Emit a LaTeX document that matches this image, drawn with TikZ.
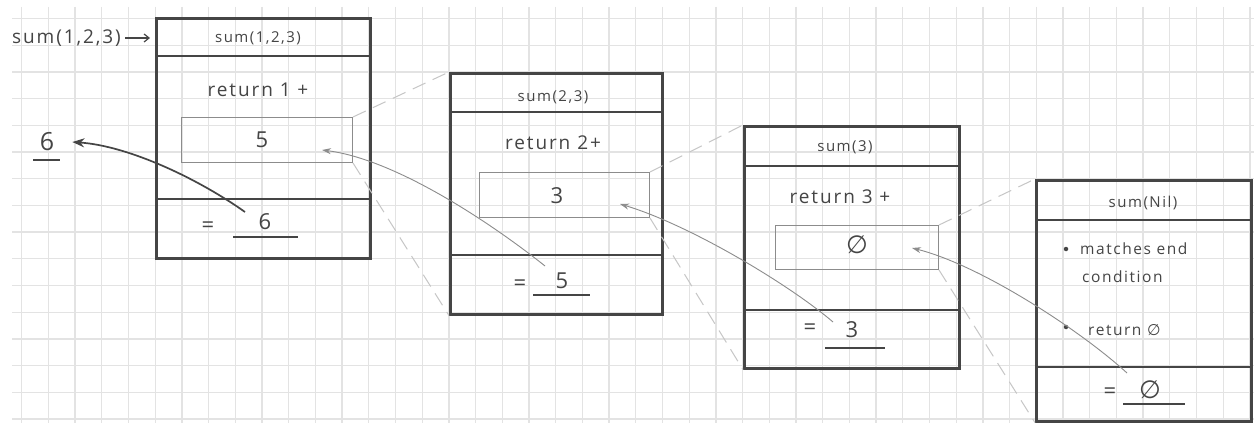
\documentclass[tikz,border=0pt]{standalone}
\usepackage{fontspec}
\setmainfont[LetterSpace=10]{Open Sans}
\newfontfamily\symfont{DejaVu Sans}
\usetikzlibrary{arrows.meta}
\definecolor{ink}{HTML}{454545}
\definecolor{pencil}{HTML}{8C8C8C}
\definecolor{gridc}{HTML}{E3E3E3}
\definecolor{dashc}{HTML}{C6C6C6}
\newcommand{\emptyglyph}{{\symfont ∅}}
\begin{document}
\begin{tikzpicture}[x=1pt,y=-1pt,
  frame/.style={draw=ink, line width=2.6pt, rectangle, inner sep=0pt, anchor=north west},
  slot/.style={draw=pencil, line width=1pt, rectangle, inner sep=0pt, anchor=north west},
  sep/.style={draw=ink, line width=2.2pt},
  txt/.style={text=ink, font=\fontsize{19}{22}\selectfont, inner sep=0pt},
  big/.style={text=ink, font=\fontsize{22}{24}\selectfont, inner sep=0pt},
  huge/.style={text=ink, font=\fontsize{25}{27}\selectfont, inner sep=0pt},
  head/.style={text=ink, font=\fontsize{15}{17}\selectfont, inner sep=0pt},
  small/.style={text=ink, font=\fontsize{15.5}{18}\selectfont, inner sep=0pt, anchor=west},
  uline/.style={draw=ink, line width=1.7pt},
  dot/.style={circle, fill=ink, inner sep=0pt, minimum size=4.5pt},
  back/.style={draw=pencil, line width=0.9pt, -{Stealth[length=9pt,width=6pt]}},
  zoomline/.style={draw=dashc, line width=1pt, dash pattern=on 14pt off 8pt},
  result/.style={draw=ink, line width=1.7pt, -{Stealth[length=12pt,width=9pt]}},
  callarr/.style={draw=ink, line width=1.2pt, -{Straight Barb[length=5pt,width=8pt]}}]

\useasboundingbox (0,0) rectangle (1254,425);
\fill[white] (0,0) rectangle (1254,425);
% graph paper
\foreach \i in {0,...,46} \draw[gridc, line width=1.3pt] ({21.7+26.7*\i},7) -- ({21.7+26.7*\i},423);
\foreach \j in {0,...,15} \draw[gridc, line width=1.3pt] (12,{18.5+26.7*\j}) -- (1254,{18.5+26.7*\j});

% frames
\node[frame, minimum width=214pt, minimum height=240pt] (b1) at (155,17) {};
\node[frame, minimum width=212pt, minimum height=241pt] (b2) at (449,72) {};
\node[frame, minimum width=215pt, minimum height=242pt] (b3) at (743,125) {};
\node[frame, minimum width=215pt, minimum height=241pt] (b4) at (1035,179) {};

% slots
\node[slot, minimum width=171pt, minimum height=45pt] (i1) at (181,117) {};
\node[slot, minimum width=170pt, minimum height=45pt] (i2) at (479,172) {};
\node[slot, minimum width=163pt, minimum height=44pt] (i3) at (775,225) {};

% zoom (perspective) lines
\draw[zoomline] (i1.north east) -- (b2.north west);
\draw[zoomline] (i1.south east) -- (b2.south west);
\draw[zoomline] (i2.north east) -- (b3.north west);
\draw[zoomline] (i2.south east) -- (b3.south west);
\draw[zoomline] (i3.north east) -- (b4.north west);
\draw[zoomline] (i3.south east) -- (b4.south west);

% separators
\draw[sep] (b1.west |- 0,56) -- (b1.east |- 0,56);
\draw[sep] (b1.west |- 0,199) -- (b1.east |- 0,199);
\draw[sep] (b2.west |- 0,112) -- (b2.east |- 0,112);
\draw[sep] (b2.west |- 0,255) -- (b2.east |- 0,255);
\draw[sep] (b3.west |- 0,166) -- (b3.east |- 0,166);
\draw[sep] (b3.west |- 0,310) -- (b3.east |- 0,310);
\draw[sep] (b4.west |- 0,220) -- (b4.east |- 0,220);
\draw[sep] (b4.west |- 0,367) -- (b4.east |- 0,367);

% call label
\node[txt, anchor=west] (call) at (12,38) {sum(1,2,3)};
\draw[callarr] ([xshift=4pt]call.east) -- ([xshift=-5pt]b1.west |- call.east);

% box 1
\node[head] (h1) at (258,38) {sum(1,2,3)};
\node[txt] (r1) at (258,90) {return 1 +};
\node[big] (s1v) at (262,140) {5};
\node[big] (e1) at (208,227) {=};
\node[big] (v1) at (265,222) {6};
\draw[uline] (233,237) -- (298,237);

% result
\node[huge] (res) at (47,142) {6};
\draw[uline] (33,160) -- (60,160);

% box 2
\node[head] (h2) at (553,97) {sum(2,3)};
\node[txt] (r2) at (553,143) {return 2+};
\node[big] (s2v) at (557,196) {3};
\node[big] (e2) at (520,285) {=};
\node[big] (v2) at (562,281) {5};
\draw[uline] (533,295) -- (590,295);

% box 3
\node[head] (h3) at (845,147) {sum(3)};
\node[txt] (r3) at (840,197) {return 3 +};
\node[huge] (s3v) at (857,245) {\emptyglyph};
\node[big] (e3) at (810,329) {=};
\node[big] (v3) at (852,330) {3};
\draw[uline] (825,348) -- (885,348);

% box 4
\node[head] (h4) at (1143,203) {sum(Nil)};
\node[dot] (d1) at (1066,249) {};
\node[small] (m1) at (1080,249) {matches end};
\node[small] (m2) at (1082,277) {condition};
\node[dot] (d2) at (1066,327) {};
\node[small] (m3) at (1088,330) {return \emptyglyph};
\node[big] (e4) at (1110,393) {=};
\node[huge] (v4) at (1150,390) {\emptyglyph};
\draw[uline] (1123,404) -- (1185,404);

% return connectors
\coordinate (t1) at (322,150);
\coordinate (t2) at (620,204);
\coordinate (t3) at (912,248);
\coordinate (f2) at (545,266);
\coordinate (f3) at (833,322);
\coordinate (f4) at (1127,373);
\draw[back] (f2) .. controls (500,230) and (400,160) .. (t1);
\draw[back] (f3) .. controls (790,285) and (690,225) .. (t2);
\draw[back] (f4) .. controls (1080,330) and (980,265) .. (t3);

\coordinate (f1) at (245,212);
\draw[result] (f1) .. controls (200,180) and (130,146) .. ([xshift=18pt]res.east);
\end{tikzpicture}
\end{document}
